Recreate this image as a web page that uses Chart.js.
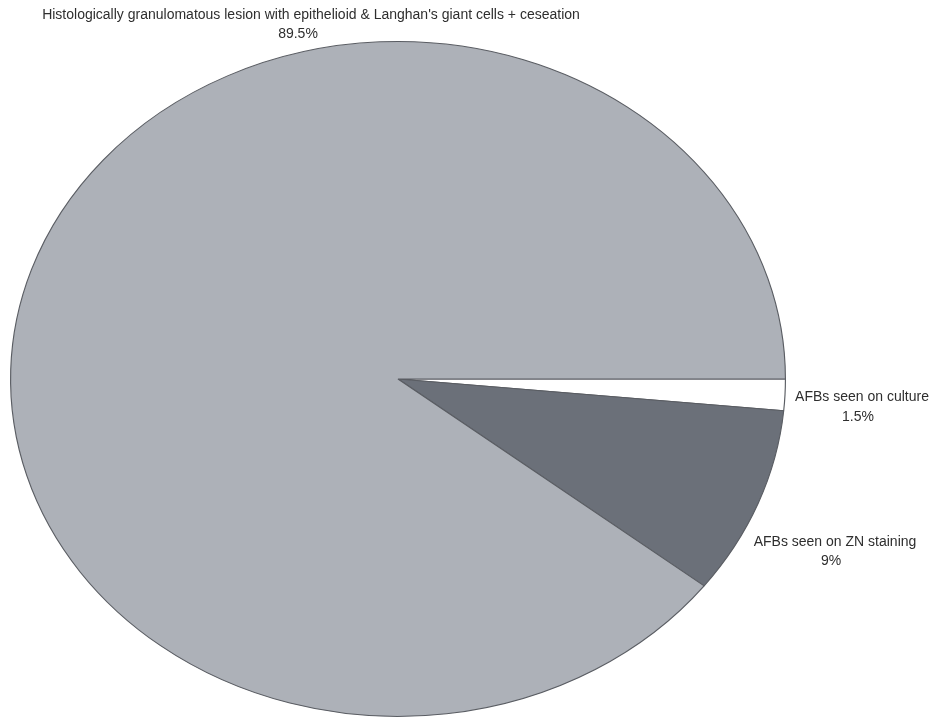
<!DOCTYPE html>
<html>
<head>
<meta charset="utf-8">
<script src="https://cdn.jsdelivr.net/npm/chart.js@4/dist/chart.umd.min.js"></script>
<style>
  html, body { margin: 0; padding: 0; background: #fff; }
  #wrap { width: 935px; height: 726px; position: relative; }
</style>
</head>
<body>
<div id="wrap"><canvas id="pieChart"></canvas></div>
<script>
// slices go clockwise from 3 o'clock
const categories = [
    "AFBs seen on culture",
    "AFBs seen on ZN staining",
    "Histologically granulomatous lesion with epithelioid & Langhan's giant cells + ceseation"
];
const percents = [1.5, 9, 89.5];
const percentLabels = ["1.5%", "9%", "89.5%"];

const sliceColors = ["#ffffff", "#6b7079", "#adb1b8"];
// label text centres: name line, then percent line
const namePos = [[862, 397], [835, 542], [311, 15]];
const pctPos = [[858, 417], [831, 561], [298, 34]];

const stretchX = 388 / 338; // pie is drawn as an ellipse

const ellipsePlugin = {
    id: "ellipse",
    beforeDatasetsDraw(chart) {
        let ctx = chart.ctx;
        let arc = chart.getDatasetMeta(0).data[0];
        ctx.save();
        ctx.translate(arc.x, arc.y);
        ctx.scale(stretchX, 1);
        ctx.translate(-arc.x, -arc.y);
    },
    afterDatasetsDraw(chart) {
        chart.ctx.restore();
    }
};

const labelPlugin = {
    id: "sliceLabels",
    afterDraw(chart) {
        let ctx = chart.ctx;
        ctx.save();
        ctx.font = "14px 'Liberation Sans', Arial, sans-serif";
        ctx.fillStyle = "#2e2e2e";
        ctx.textAlign = "center";
        ctx.textBaseline = "middle";
        categories.forEach((cat, i) => {
            ctx.fillText(cat, namePos[i][0], namePos[i][1]);
            ctx.fillText(percentLabels[i], pctPos[i][0], pctPos[i][1]);
        });
        ctx.restore();
    }
};

let pieCtx = document.getElementById("pieChart").getContext("2d");
let pieChart = new Chart(pieCtx, {
    type: "pie",
    data: {
        labels: categories,
        datasets: [{
            data: percents,
            backgroundColor: sliceColors,
            borderColor: "#5a5d63",
            borderWidth: 1
        }]
    },
    options: {
        responsive: true,
        maintainAspectRatio: false,
        animation: false,
        rotation: 90,
        layout: { padding: { top: 41, bottom: 9, left: 60, right: 199 } },
        plugins: {
            legend: { display: false },
            tooltip: { enabled: false }
        }
    },
    plugins: [ellipsePlugin, labelPlugin]
});
</script>
</body>
</html>
